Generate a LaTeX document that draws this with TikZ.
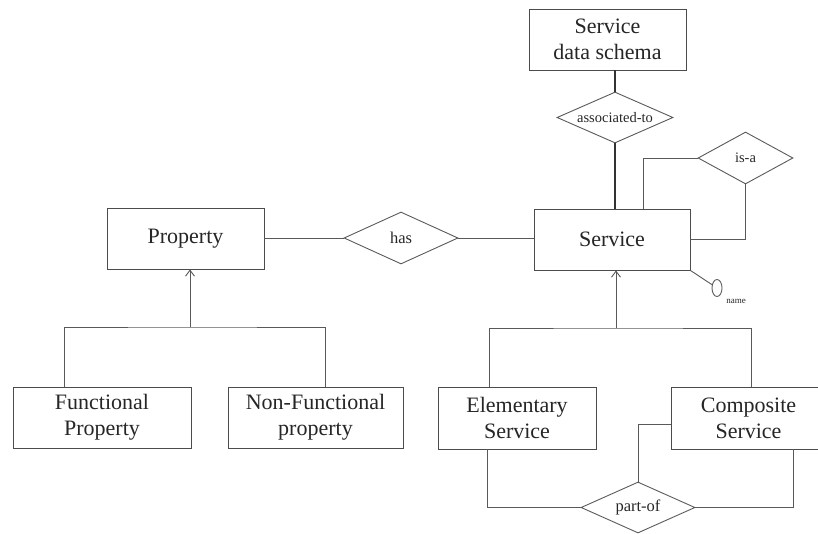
\documentclass[tikz,border=0pt]{standalone}
\usepackage{fontspec}
\setmainfont{Liberation Serif}
\usetikzlibrary{shapes.geometric,arrows.meta}
\begin{document}
\begin{tikzpicture}[x=1pt,y=-1pt,
  entity/.style={draw=black!70, line width=0.9pt, fill=white, rectangle, inner sep=0pt,
    align=center, font=\fontsize{22}{26}\selectfont, text=black!85},
  relation/.style={draw=black!65, line width=0.9pt, diamond, inner sep=0pt},
  rtext/.style={text=black!85, inner sep=0pt},
  link/.style={draw=black!65, line width=0.9pt},
  strong/.style={draw=black!80, line width=2.4pt},
  isarrow/.style={link, -{Straight Barb[length=6pt,width=9pt]}}]
\useasboundingbox (0,0) rectangle (818,534);
\begin{scope}
\clip (0,0) rectangle (818,534);

% entities
\node[entity, minimum width=157, minimum height=61] (sds) at (607.5,39.5) {Service\\data schema};
\node[entity, minimum width=156, minimum height=61] (svc) at (612,239.5) {Service};
\node[entity, minimum width=157, minimum height=61] (prop) at (185.5,238.5) {Property};
\node[entity, minimum width=178, minimum height=61] (func) at (102,417.5) {Functional\\Property};
\node[entity, minimum width=175, minimum height=61] (nfunc) at (315.5,417.5) {Non-Functional\\property};
\node[entity, minimum width=158, minimum height=62] (elem) at (517,418) {Elementary\\Service};
\node[entity, minimum width=155, minimum height=62] (comp) at (748.5,418) {Composite\\Service};

% relationships: fixed-size diamonds, labels set on top
\node[relation, minimum width=116, minimum height=51] (assoc) at (615,117.5) {};
\node[relation, minimum width=95, minimum height=52] (isa) at (745.5,158) {};
\node[relation, minimum width=114, minimum height=52] (has) at (401,238) {};
\node[relation, minimum width=114, minimum height=51] (partof) at (638,507.5) {};
\node[rtext, font=\fontsize{14.5}{16}\selectfont] (assoctext) at (assoc.center) {associated-to};
\node[rtext, font=\fontsize{14.5}{16}\selectfont] (isatext) at (isa.center) {is-a};
\node[rtext, font=\fontsize{16.5}{18}\selectfont] (hastext) at (has.center) {has};
\node[rtext, font=\fontsize{16.5}{18}\selectfont] (partoftext) at (partof.center) {part-of};

% attribute
\node[draw=black!65, line width=0.9pt, ellipse, inner sep=0pt, minimum width=10, minimum height=17] (nm) at (717,288) {};
\node[font=\fontsize{9}{10}\selectfont, text=black!85] (nmlabel) at (736,301) {name};

% junction points of the generalisations
\coordinate (pj) at (190,327);
\coordinate (sj) at (616,328);

% associated-to
\draw[strong] (assoc.north |- sds.south) -- (assoc.north);
\draw[strong] (assoc.south) -- (assoc.south |- svc.north);

% is-a (recursive)
\draw[link] ([xshift=31pt]svc.north) |- (isa.west);
\draw[link] (isa.south) |- (svc.east);

% has
\draw[link] (prop.east) -- (prop.east -| has.west) -- (has.west);
\draw[link] (has.east) -- (has.east -| svc.west);

% property generalisation
\draw[link] ([xshift=-38pt]func.north) |- (pj) -| ([xshift=9.5pt]nfunc.north);
\draw[isarrow] (pj) -- (pj |- prop.south);

% service generalisation
\draw[link] ([xshift=-28pt]elem.north) |- (sj) -| ([xshift=2.5pt]comp.north);
\draw[isarrow] (sj) -- (sj |- svc.south);

% part-of
\draw[link] ([xshift=-30pt]elem.south) |- (partof.west);
\draw[link] ([xshift=44.5pt]comp.south) |- (partof.east);
\draw[link] (partof.north) |- ([yshift=-6pt]comp.west);

% name attribute
\draw[link] (svc.south east) -- (nm);
\end{scope}
\end{tikzpicture}
\end{document}
